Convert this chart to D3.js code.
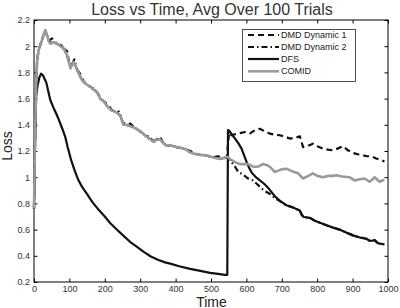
<!DOCTYPE html>
<html><head><meta charset="utf-8">
<script src="https://cdn.jsdelivr.net/npm/d3@7"></script>
<style>body{margin:0;background:#fff}svg{display:block}text{font-family:"Liberation Sans",Arial,Helvetica,sans-serif}</style>
</head><body><svg id="c" width="400" height="308"></svg>
<script>
// ---- data ----
const xTicks = [0,100,200,300,400,500,600,700,800,900,1000];
const yTicks = [0.2,0.4,0.6,0.8,1,1.2,1.4,1.6,1.8,2,2.2];
const seriesNames = ["DMD Dynamic 1","DMD Dynamic 2","DFS","COMID"];

const comidT = [0,3,6,9,14,18,24,29,32,37,42,46,55,65,75,84,94,103,108,112,117,122,130,136,147,159,168,178,187,197,204,211,220,230,244,253,262,272,281,290,300,309,318,328,337,346,356,365,375,385,394,403,412,422,431,440,450,460,470,480,488,497,506,515,525,535,545,549,558,568,582,595,605,619,633,647,661,670,680,690,700,713,725,735,746,760,775,788,800,816,830,845,854,870,891,906,920,934,948,955,962,970,976,984,990];
const comidV = [0.76,1.30,1.70,1.90,1.98,2.01,2.06,2.10,2.12,2.08,2.04,2.02,2.03,2.02,2.00,1.98,1.93,1.83,1.86,1.88,1.85,1.82,1.77,1.74,1.71,1.69,1.67,1.65,1.60,1.58,1.55,1.53,1.51,1.50,1.47,1.40,1.40,1.39,1.38,1.37,1.35,1.33,1.31,1.29,1.27,1.285,1.29,1.26,1.24,1.245,1.235,1.23,1.225,1.22,1.21,1.19,1.18,1.175,1.17,1.17,1.165,1.16,1.15,1.145,1.14,1.145,1.155,1.15,1.13,1.115,1.10,1.10,1.10,1.08,1.08,1.10,1.09,1.07,1.04,1.05,1.06,1.065,1.05,1.04,1.03,0.99,1.01,1.03,1.01,1.00,1.01,1.01,1.015,1.005,1.00,0.975,0.985,0.99,0.965,0.98,1.00,0.98,0.965,0.975,0.98];

const dmd1T = [0,3,6,9,14,18,24,29,32,37,42,51,60,70,80,94,100,108,115,122,130,140,150,160,170,180,190,200,211,220,232,244,253,262,272,285,300,315,330,340,356,365,375,390,403,415,430,445,460,475,490,505,520,535,545,551,558,570,582,596,610,625,638,652,666,680,694,708,723,737,751,760,774,788,802,816,830,845,859,873,887,901,915,929,941,953,965,976,985,990];
const dmd1V = [0.76,1.30,1.70,1.90,1.98,2.01,2.06,2.10,2.12,2.08,2.04,2.06,2.025,2.01,1.99,1.96,1.86,1.86,1.865,1.82,1.79,1.73,1.705,1.69,1.67,1.64,1.595,1.57,1.55,1.51,1.50,1.47,1.40,1.40,1.41,1.375,1.35,1.317,1.286,1.275,1.31,1.26,1.24,1.24,1.23,1.223,1.211,1.185,1.175,1.17,1.164,1.151,1.16,1.145,1.155,1.34,1.32,1.33,1.337,1.345,1.335,1.36,1.37,1.35,1.333,1.325,1.32,1.31,1.295,1.30,1.312,1.23,1.24,1.256,1.235,1.218,1.21,1.205,1.22,1.236,1.205,1.185,1.175,1.167,1.16,1.16,1.145,1.134,1.125,1.12];

const dmd2T = [0,3,6,9,14,18,24,29,32,37,42,50,58,68,78,90,98,106,114,120,128,138,148,158,168,178,188,198,208,218,228,240,250,260,270,282,296,310,324,338,350,362,372,386,400,414,428,442,456,470,486,500,516,530,540,549,558,568,577,590,605,619,633,645,657,668,676,690,713,730,751,757,762,779,795,810,826,845,863,880,901,920,939,948,955,962,970,976,985,990];
const dmd2V = [0.76,1.30,1.70,1.90,1.98,2.01,2.06,2.10,2.12,2.08,2.04,2.023,2.03,2.02,2.004,1.95,1.89,1.85,1.90,1.832,1.782,1.736,1.708,1.692,1.67,1.65,1.598,1.577,1.539,1.514,1.502,1.50,1.423,1.40,1.392,1.379,1.359,1.328,1.31,1.272,1.288,1.269,1.246,1.244,1.232,1.224,1.212,1.20,1.177,1.17,1.167,1.157,1.147,1.142,1.15,1.15,1.116,1.08,1.04,1.02,0.99,0.975,0.94,0.91,0.887,0.87,0.85,0.825,0.786,0.77,0.745,0.71,0.696,0.69,0.665,0.65,0.633,0.615,0.60,0.58,0.556,0.54,0.53,0.515,0.515,0.52,0.50,0.493,0.49,0.485];

const dfsT = [0,3,6,10,15,20,25,30,35,40,46,55,62,70,80,88,95,105,115,125,135,150,165,180,200,215,230,250,272,290,310,330,350,370,385,410,441,470,497,520,539,546,548,551,558,568,577,586,593,600,608,615,625,638,650,661,670,680,695,713,730,751,757,762,779,795,810,826,845,863,880,901,920,939,948,955,962,970,976,985,990];
const dfsV = [0.78,1.25,1.62,1.70,1.76,1.79,1.78,1.75,1.72,1.66,1.59,1.53,1.49,1.44,1.37,1.31,1.23,1.13,1.05,0.98,0.93,0.87,0.81,0.76,0.70,0.65,0.61,0.56,0.505,0.47,0.43,0.395,0.37,0.35,0.34,0.32,0.30,0.285,0.27,0.262,0.255,0.255,1.36,1.355,1.33,1.295,1.26,1.22,1.17,1.12,1.07,1.035,1.005,0.976,0.95,0.92,0.89,0.855,0.82,0.786,0.77,0.745,0.71,0.696,0.69,0.665,0.65,0.633,0.615,0.60,0.58,0.556,0.54,0.53,0.515,0.515,0.52,0.50,0.493,0.49,0.485];

// ---- chart ----
const L = 34, R = 388, T = 20, B = 282;
const svg = d3.select("#c");
const x = d3.scaleLinear().domain([0,1000]).range([L,R]);
const y = d3.scaleLinear().domain([0.2,2.2]).range([B,T]);

const fmt = d => String(d);
const tk = 3.5;

svg.append("g").attr("transform",`translate(0,${B})`)
  .call(d3.axisBottom(x).tickValues(xTicks).tickFormat(fmt).tickSize(-tk).tickSizeOuter(0).tickPadding(4))
  .call(g=>{g.select(".domain").remove();g.selectAll("text").attr("font-size",9).attr("font-family","Liberation Sans, Arial, sans-serif").attr("fill","#333");});
svg.append("g").attr("transform",`translate(${L},0)`)
  .call(d3.axisLeft(y).tickValues(yTicks).tickFormat(fmt).tickSize(-tk).tickSizeOuter(0).tickPadding(4))
  .call(g=>{g.select(".domain").remove();g.selectAll("text").attr("font-size",9).attr("font-family","Liberation Sans, Arial, sans-serif").attr("fill","#333");});
svg.append("g").attr("transform",`translate(0,${T})`)
  .call(d3.axisTop(x).tickValues(xTicks).tickFormat("").tickSize(-tk).tickSizeOuter(0))
  .call(g=>g.select(".domain").remove());
svg.append("g").attr("transform",`translate(${R},0)`)
  .call(d3.axisRight(y).tickValues(yTicks).tickFormat("").tickSize(-tk).tickSizeOuter(0))
  .call(g=>g.select(".domain").remove());

svg.append("rect").attr("x",L).attr("y",T).attr("width",R-L).attr("height",B-T)
  .attr("fill","none").attr("stroke","#000").attr("stroke-width",1);

const line = d3.line().x(d=>x(d[0])).y(d=>y(d[1]));
const styles = [
  {t:dmd1T,v:dmd1V,color:"#111",dash:"6,4",w:2.2},
  {t:dmd2T,v:dmd2V,color:"#111",dash:"6,3,1.5,3",w:2.2},
  {t:dfsT,v:dfsV,color:"#111",dash:null,w:2.2},
  {t:comidT,v:comidV,color:"#9a9a9a",dash:null,w:2.6}
];
const plot = svg.append("g");
styles.forEach(s=>{
  plot.append("path").datum(d3.zip(s.t,s.v)).attr("d",line)
    .attr("fill","none").attr("stroke",s.color).attr("stroke-width",s.w)
    .attr("stroke-dasharray",s.dash).attr("stroke-linejoin","round");
});

// legend
const lg = svg.append("g");
lg.append("rect").attr("x",242.5).attr("y",29.5).attr("width",113).attr("height",52)
  .attr("fill","#fff").attr("stroke","#222").attr("stroke-width",0.8);
const rowsY = [35,47,59,71.3];
seriesNames.forEach((n,i)=>{
  const s = styles[i];
  lg.append("line").attr("x1",248).attr("x2",279).attr("y1",rowsY[i]).attr("y2",rowsY[i])
    .attr("stroke",s.color).attr("stroke-width",s.w).attr("stroke-dasharray",s.dash);
  lg.append("text").attr("x",281).attr("y",rowsY[i]).attr("dy","0.35em")
    .attr("font-size",9).attr("fill","#222").text(n);
});

// titles
svg.append("text").attr("x",212).attr("y",15).attr("text-anchor","middle")
  .attr("font-size",16).attr("fill","#333").text("Loss vs Time, Avg Over 100 Trials");
svg.append("text").attr("x",211.5).attr("y",306.5).attr("text-anchor","middle")
  .attr("font-size",14).attr("fill","#222").text("Time");
svg.append("text").attr("transform","translate(11.5,146) rotate(-90)").attr("text-anchor","middle")
  .attr("font-size",14).attr("fill","#222").text("Loss");
</script></body></html>
